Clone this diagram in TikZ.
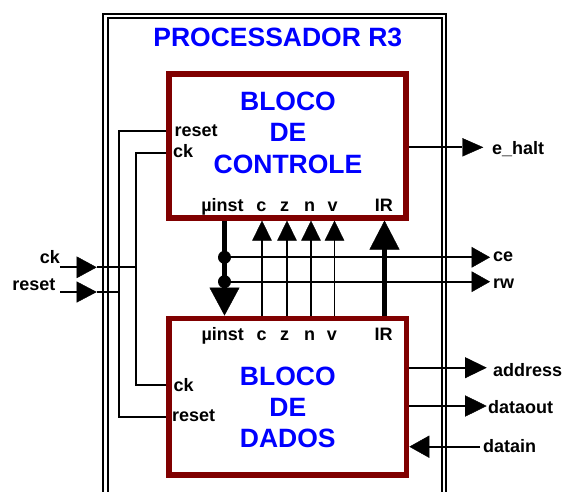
\documentclass[tikz,border=0pt]{standalone}
\usepackage{fontspec}
\setmainfont{Liberation Sans}
\usetikzlibrary{arrows.meta}
\definecolor{blockred}{HTML}{800000}
\definecolor{titleblue}{HTML}{0000FF}
\begin{document}
\begin{tikzpicture}[x=1pt,y=-1pt,
  lbl/.style={font=\fontsize{18}{18}\selectfont\bfseries, inner sep=0pt, outer sep=0pt},
  titletxt/.style={font=\fontsize{26.5}{26.5}\selectfont\bfseries, text=titleblue, inner sep=0pt, anchor=base},
  blockbox/.style={draw=blockred, line width=5.5pt, inner sep=0pt},
  procframe/.style={draw, line width=2pt, double, double distance=2.4pt, inner sep=0pt},
  wire/.style={line width=1.8pt},
  bus/.style={line width=5.6pt},
  tri/.style 2 args={-{Triangle[length=#1,width=#2,line width=0.4pt]}},
  dotn/.style={circle, fill, minimum size=13pt, inner sep=0pt}]
\useasboundingbox[fill=white] (0,0) rectangle (565,491);

% frame and blocks
\node[procframe, minimum width=338.35pt, minimum height=544.2pt] (proc) at (274.68,287.9) {};
\node[titletxt] (title) at (277.8,46.7) {PROCESSADOR R3};
\node[blockbox, minimum width=237.2pt, minimum height=144pt] (ctl) at (287.6,145.8) {};
\node[blockbox, minimum width=237.5pt, minimum height=156.7pt] (dat) at (287.85,396.65) {};

\node[titletxt] (ctl1) at (288,110) {BLOCO};
\node[titletxt] (ctl2) at (288,141.7) {DE};
\node[titletxt] (ctl3) at (288,173.3) {CONTROLE};
\node[titletxt] (dat1) at (287.8,385) {BLOCO};
\node[titletxt] (dat2) at (287.8,416.7) {DE};
\node[titletxt] (dat3) at (287.8,447.3) {DADOS};

% port labels
\node[lbl, anchor=base west] (crst) at (174.5,136) {reset};
\node[lbl, anchor=base west] (cck) at (173,157.3) {ck};
\node[lbl, anchor=base] (cmi) at (222.5,211) {µinst};
\node[lbl, anchor=base] (cc) at (261.3,211) {c};
\node[lbl, anchor=base] (cz) at (284.7,211) {z};
\node[lbl, anchor=base] (cn) at (309.7,211) {n};
\node[lbl, anchor=base] (cv) at (332.7,211) {v};
\node[lbl, anchor=base] (cir) at (383.8,211) {IR};

\node[lbl, anchor=base] (dmi) at (222.8,340) {µinst};
\node[lbl, anchor=base] (dc) at (261.7,340) {c};
\node[lbl, anchor=base] (dz) at (284.7,340) {z};
\node[lbl, anchor=base] (dn) at (309.7,340) {n};
\node[lbl, anchor=base] (dv) at (332,340) {v};
\node[lbl, anchor=base] (dir) at (383.5,340) {IR};
\node[lbl, anchor=base west] (dck) at (173.5,391.5) {ck};
\node[lbl, anchor=base west] (drst) at (172,421.7) {reset};

% clock / reset distribution
\coordinate (rsX) at (119.3,0);
\coordinate (ckX) at (136,0);
\draw[wire] (ctl.west |- 0,131) -| (rsX |- 0,417.3) -- (dat.west |- 0,417.3);
\draw[wire] (ctl.west |- 0,152.7) -| (ckX |- 0,385) -- (dat.west |- 0,385);

\coordinate (ckIn) at (60,267.3);
\coordinate (ckTip) at (96.7,267.3);
\draw[wire, tri={20pt}{21.6pt}] (ckIn) -- (ckTip);
\draw[wire] (ckTip) -- (ckX |- ckIn);
\node[lbl, anchor=base east] (ckL) at (60,263.3) {ck};

\coordinate (rsIn) at (60,292);
\coordinate (rsTip) at (96.7,292);
\draw[wire, tri={20pt}{21pt}] (rsIn) -- (rsTip);
\draw[wire] (rsTip) -- (rsX |- rsIn);
\node[lbl, anchor=base east] (rsL) at (55.5,290) {reset};

% buses between blocks
\coordinate (mX) at (224.5,0);
\coordinate (irX) at (384.5,0);
\coordinate (cX) at (262,0);
\coordinate (zX) at (287,0);
\coordinate (nX) at (311,0);
\coordinate (vX) at (334.5,0);
\draw[bus, tri={28pt}{30pt}] (mX |- ctl.south) -- (mX |- dat.north);
\draw[bus, tri={29pt}{30pt}] (irX |- dat.north) -- (irX |- ctl.south);
\foreach \p in {cX,zX,nX,vX}
  \draw[wire, tri={20pt}{19.5pt}] (\p |- dat.north) -- (\p |- ctl.south);

\node[dotn] (d1) at (mX |- 0,257.3) {};
\node[dotn] (d2) at (mX |- 0,281.7) {};
\coordinate (ceEnd) at (490,257.3);
\coordinate (rwEnd) at (490,281.7);
\draw[wire, tri={18.3pt}{20.6pt}] (d1.center) -- (ceEnd);
\draw[wire, tri={18.3pt}{20.6pt}] (d2.center) -- (rwEnd);
\node[lbl, anchor=base west] (ceL) at (493,261.3) {ce};
\node[lbl, anchor=base west] (rwL) at (493,288.7) {rw};

% outputs / inputs on the right
\coordinate (ehEnd) at (483.3,147.3);
\draw[wire, tri={21pt}{18.4pt}] (ctl.east |- ehEnd) -- (ehEnd);
\node[lbl, anchor=base west] (ehL) at (492,154) {e\textunderscore halt};

\coordinate (adEnd) at (486.7,367.7);
\draw[wire, tri={21.7pt}{21pt}] (dat.east |- adEnd) -- (adEnd);
\node[lbl, anchor=base west] (adL) at (493,376) {address};

\coordinate (doEnd) at (486.7,406);
\draw[wire, tri={21.7pt}{21.3pt}] (dat.east |- doEnd) -- (doEnd);
\node[lbl, anchor=base west] (doL) at (488,413.3) {dataout};

\coordinate (diStart) at (480,446.7);
\draw[wire, tri={20pt}{22.3pt}] (diStart) -- (dat.east |- diStart);
\node[lbl, anchor=base west] (diL) at (483,452.7) {datain};
\end{tikzpicture}
\end{document}
